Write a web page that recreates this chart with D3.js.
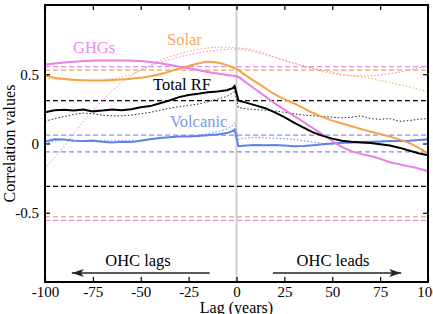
<!DOCTYPE html>
<html>
<head>
<meta charset="utf-8">
<script src="https://cdn.jsdelivr.net/npm/d3@7"></script>
<style>
  body { margin: 0; background: #fff; }
</style>
</head>
<body>
<script>
// lags in years (negative = OHC lags the forcing)
var lags = [-100,-95,-90,-85,-80,-75,-70,-65,-60,-55,-50,-45,-40,-35,-30,-25,-20,-15,-10,-5,-2,-1,
            1,5,10,15,20,25,30,35,40,45,50,55,60,65,70,75,80,85,90,95,100];

// solid lines
var ghg = [0.57,0.578,0.585,0.59,0.595,0.598,0.6,0.6,0.6,0.598,0.595,0.588,0.58,0.568,0.555,0.543,0.53,0.517,0.505,0.495,0.49,0.488,
           0.48,0.44,0.39,0.34,0.29,0.245,0.2,0.155,0.11,0.065,0.02,-0.025,-0.055,-0.075,-0.09,-0.11,-0.135,-0.15,-0.165,-0.18,-0.2];
var solar = [0.49,0.475,0.465,0.46,0.457,0.455,0.455,0.458,0.462,0.468,0.475,0.485,0.5,0.52,0.54,0.56,0.578,0.59,0.585,0.565,0.55,0.545,
             0.53,0.49,0.445,0.4,0.355,0.32,0.29,0.255,0.22,0.19,0.165,0.145,0.125,0.105,0.085,0.068,0.05,0.03,0.005,-0.03,-0.07];
var totalRF = [0.225,0.24,0.243,0.238,0.245,0.232,0.238,0.245,0.24,0.248,0.262,0.27,0.29,0.31,0.335,0.35,0.36,0.37,0.375,0.385,0.4,0.415,
               0.31,0.295,0.275,0.255,0.225,0.19,0.15,0.115,0.08,0.055,0.035,0.02,0.013,0.008,0.003,-0.005,-0.015,-0.03,-0.05,-0.07,-0.085];
var volcanic = [0.015,0.03,0.028,0.02,0.018,0.02,0.012,0.008,0.012,0.01,0.02,0.03,0.04,0.045,0.05,0.05,0.055,0.06,0.065,0.075,0.09,0.1,
                -0.02,-0.015,-0.01,-0.012,-0.01,-0.015,-0.02,-0.018,-0.012,-0.005,0.0,0.005,0.008,0.01,0.012,0.015,0.018,0.018,0.02,0.025,0.03];

// dotted lines
var ghgDot = [-0.18,-0.1,-0.02,0.07,0.16,0.24,0.31,0.38,0.44,0.49,0.53,0.56,0.585,0.605,0.625,0.64,0.655,0.665,0.675,0.68,0.682,0.682,
              0.682,0.675,0.66,0.64,0.62,0.6,0.58,0.56,0.54,0.52,0.505,0.495,0.49,0.488,0.49,0.495,0.505,0.515,0.53,0.545,0.56];
var solarDot = [0.47,0.465,0.46,0.457,0.455,0.457,0.46,0.468,0.48,0.5,0.53,0.565,0.6,0.625,0.645,0.665,0.68,0.69,0.695,0.695,0.693,0.692,
                0.69,0.685,0.67,0.65,0.625,0.6,0.58,0.56,0.545,0.53,0.515,0.5,0.49,0.48,0.47,0.455,0.44,0.425,0.41,0.39,0.375];
var totalDot = [0.16,0.18,0.195,0.21,0.22,0.215,0.205,0.2,0.2,0.205,0.215,0.225,0.24,0.255,0.265,0.275,0.285,0.3,0.32,0.34,0.365,0.38,
                0.26,0.25,0.245,0.24,0.235,0.225,0.215,0.205,0.2,0.195,0.19,0.185,0.19,0.2,0.18,0.175,0.18,0.16,0.165,0.175,0.18];
var volcanicDot = [0.0,0.02,0.03,0.025,0.02,0.025,0.02,0.018,0.02,0.02,0.025,0.035,0.04,0.048,0.05,0.055,0.06,0.07,0.085,0.105,0.13,0.15,
                   0.03,0.04,0.042,0.04,0.038,0.035,0.03,0.02,0.01,0.0,-0.005,0.0,0.005,0.008,0.01,0.013,0.015,0.018,0.02,0.022,0.025];

// significance levels (+/-)
var sigLevels = [0.555, 0.53, 0.31, 0.06];

var xTicks = [-100,-75,-50,-25,0,25,50,75,100];
var yTicks = [-0.5,0,0.5];

var W = 433, H = 314;
var margin = {top: 5, right: 5, bottom: 32, left: 45};
var FONT = "Liberation Serif";

var svg = d3.select("body").append("svg")
    .attr("width", W)
    .attr("height", H);

var x = d3.scaleLinear().domain([-100, 100]).range([margin.left, W - margin.right]);
var y = d3.scaleLinear().domain([-1, 1]).range([H - margin.bottom, margin.top]);

var colGHG = "#ea7fe6", colSolar = "#f4a447", colTotal = "#000", colVolc = "#5f82ea";

// zero-lag marker
svg.append("line")
    .attr("x1", x(0)).attr("x2", x(0))
    .attr("y1", y(1)).attr("y2", y(-1))
    .attr("stroke", "#cfcfcf")
    .attr("stroke-width", 2);

// dashed significance lines
var sigColors = ["#e58ee8", "#f2a650", "#000", "#8a8cee"];
sigLevels.forEach(function(s, i) {
  [s, -s].forEach(function(v) {
    svg.append("line")
        .attr("x1", x(-100)).attr("x2", x(100))
        .attr("y1", y(v)).attr("y2", y(v))
        .attr("stroke", sigColors[i])
        .attr("stroke-width", 1.2)
        .attr("stroke-dasharray", "5,3");
  });
});

function series(vals, color, width, dash, curve) {
  var line = d3.line()
      .x(function(d, i) { return x(lags[i]); })
      .y(function(d) { return y(d); })
      .curve(curve || d3.curveLinear);
  svg.append("path")
      .datum(vals)
      .attr("fill", "none")
      .attr("stroke", color)
      .attr("stroke-width", width)
      .attr("stroke-dasharray", dash)
      .attr("d", line);
}

// dotted
series(ghgDot, colGHG, 1, "1.5,2", d3.curveMonotoneX);
series(solarDot, colSolar, 1, "1.5,2", d3.curveMonotoneX);
series(totalDot, "#222", 1, "1.5,2");
series(volcanicDot, colVolc, 1, "1.5,2");

// solid
series(volcanic, colVolc, 2);
series(solar, colSolar, 2, null, d3.curveMonotoneX);
series(ghg, colGHG, 2, null, d3.curveMonotoneX);
series(totalRF, colTotal, 2);

// frame
svg.append("rect")
    .attr("x", x(-100)).attr("y", y(1))
    .attr("width", x(100) - x(-100))
    .attr("height", y(-1) - y(1))
    .attr("fill", "none")
    .attr("stroke", "#000")
    .attr("stroke-width", 2);

// axes with inward ticks
svg.append("g")
    .attr("transform", "translate(0," + y(-1) + ")")
    .call(d3.axisBottom(x).tickValues(xTicks).tickSizeInner(-5).tickSizeOuter(0).tickPadding(4)
          .tickFormat(function(d) { return String(d); }));
svg.append("g")
    .attr("transform", "translate(0," + y(1) + ")")
    .call(d3.axisTop(x).tickValues(xTicks).tickSizeInner(-5).tickSizeOuter(0).tickFormat(""));
svg.append("g")
    .attr("transform", "translate(" + x(-100) + ",0)")
    .call(d3.axisLeft(y).tickValues(yTicks).tickSizeInner(-5).tickSizeOuter(0).tickPadding(6)
          .tickFormat(function(d) { return String(d); }));
svg.append("g")
    .attr("transform", "translate(" + x(100) + ",0)")
    .call(d3.axisRight(y).tickValues(yTicks).tickSizeInner(-5).tickSizeOuter(0).tickFormat(""));

svg.selectAll(".domain").remove();
svg.selectAll(".tick line").attr("stroke", "#000").attr("stroke-width", 1.2);
svg.selectAll(".tick text")
    .attr("fill", "#000")
    .attr("font-size", 15);

// axis titles
svg.append("text")
    .attr("x", x(0)).attr("y", 313)
    .attr("text-anchor", "middle")
    .attr("font-size", 16)
    .text("Lag (years)");
svg.append("text")
    .attr("transform", "translate(15," + y(0) + ") rotate(-90)")
    .attr("text-anchor", "middle")
    .attr("font-size", 16)
    .text("Correlation values");

// series labels
var labels = [
  {t: "GHGs", x: 73, y: 52.5, c: "#e88be8"},
  {t: "Solar", x: 167, y: 45, c: "#f4a95c"},
  {t: "Total RF", x: 153, y: 90, c: "#000"},
  {t: "Volcanic", x: 170, y: 127, c: "#7b97ee"}
];
svg.selectAll(".lbl").data(labels).enter().append("text")
    .attr("class", "lbl")
    .attr("x", function(d) { return d.x; })
    .attr("y", function(d) { return d.y; })
    .attr("fill", function(d) { return d.c; })
    .attr("font-size", 16.5)
    .text(function(d) { return d.t; });

// arrows
var defs = svg.append("defs");
defs.append("marker")
    .attr("id", "head")
    .attr("viewBox", "0 0 12 8")
    .attr("refX", 12).attr("refY", 4)
    .attr("markerWidth", 12).attr("markerHeight", 8)
    .attr("markerUnits", "userSpaceOnUse")
    .attr("orient", "auto")
  .append("path")
    .attr("d", "M0,0 L12,4 L0,8 L3,4 Z")
    .attr("fill", "#222");

var arrowY = 273;
svg.append("line")
    .attr("x1", x(-14)).attr("x2", x(-86))
    .attr("y1", arrowY).attr("y2", arrowY)
    .attr("stroke", "#222").attr("stroke-width", 1.3)
    .attr("marker-end", "url(#head)");
svg.append("line")
    .attr("x1", x(19)).attr("x2", x(86))
    .attr("y1", arrowY).attr("y2", arrowY)
    .attr("stroke", "#222").attr("stroke-width", 1.3)
    .attr("marker-end", "url(#head)");
svg.append("text")
    .attr("x", 138).attr("y", 266)
    .attr("text-anchor", "middle")
    .attr("font-size", 16.5)
    .text("OHC lags");
svg.append("text")
    .attr("x", 333).attr("y", 266)
    .attr("text-anchor", "middle")
    .attr("font-size", 16.5)
    .text("OHC leads");

// every text in the serif face
svg.selectAll("g").attr("font-family", null);
svg.selectAll("text").attr("font-family", FONT);
</script>
</body>
</html>
